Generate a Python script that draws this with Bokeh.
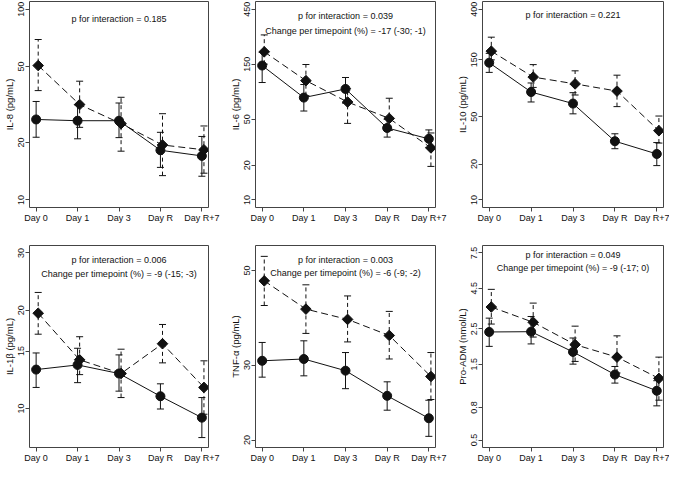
import numpy as np
from bokeh.plotting import figure
from bokeh.layouts import gridplot
from bokeh.models import (Range1d, FixedTicker, Whisker, TeeHead, ColumnDataSource,
                          Label, LinearAxis)
from bokeh.embed import file_html
from bokeh.resources import INLINE

# ---------------- data ----------------
days = ["Day 0", "Day 1", "Day 3", "Day R", "Day R+7"]
day_x = [1, 2, 3, 4, 5]

# IL-8
il8_solid = [26.4, 26.0, 26.0, 18.2, 17.0]
il8_solid_lo = [21.3, 20.9, 21.2, 14.8, 13.3]
il8_solid_hi = [32.8, 31.5, 32.2, 22.6, 21.5]
il8_dash = [50.6, 31.6, 25.1, 19.4, 18.3]
il8_dash_lo = [37.4, 24.0, 18.0, 13.4, 13.8]
il8_dash_hi = [69.3, 41.9, 34.5, 28.3, 24.4]
il8_ticks = [10, 20, 50, 100]
il8_tick_labels = ["10", "20", "50", "100"]

# IL-6
il6_solid = [146, 77, 91.5, 42, 33.8]
il6_solid_lo = [104, 58.9, 69, 35, 28.5]
il6_solid_hi = [190, 100, 115, 50, 40.4]
il6_dash = [192, 108, 70.5, 50.8, 28.2]
il6_dash_lo = [150, 80, 46, 40, 19.5]
il6_dash_hi = [269, 149, 92, 76, 38]
il6_ticks = [10, 20, 50, 150, 450]
il6_tick_labels = ["10", "20", "50", "150", "450"]

# IL-10
il10_solid = [141.9, 80.5, 64.4, 31.1, 24.3]
il10_solid_lo = [117.7, 66.4, 52.8, 26.9, 19.4]
il10_solid_hi = [170, 95.9, 79.5, 35.9, 30.3]
il10_dash = [177.4, 107.5, 94.2, 82, 38.1]
il10_dash_lo = [150, 88, 76, 60.7, 30]
il10_dash_hi = [232.5, 136.8, 121.3, 111.5, 50.6]
il10_ticks = [10, 20, 50, 150, 400]
il10_tick_labels = ["10", "20", "50", "150", "400"]

# IL-1beta
il1b_solid = [13.16, 13.6, 12.8, 10.9, 9.37]
il1b_solid_lo = [11.6, 12.0, 11.3, 9.96, 8.14]
il1b_solid_hi = [14.8, 15.3, 14.6, 11.9, 10.8]
il1b_dash = [19.6, 14.1, 12.8, 15.8, 11.6]
il1b_dash_lo = [16.9, 12.7, 10.8, 13.8, 9.6]
il1b_dash_hi = [22.7, 16.6, 15.2, 18.1, 14.0]
il1b_ticks = [10, 15, 20, 30]
il1b_tick_labels = ["10", "15", "20", "30"]

# TNF-alpha
tnf_solid = [30.7, 31.0, 29.1, 25.4, 22.5]
tnf_solid_lo = [28.1, 28.3, 26.4, 23.5, 20.4]
tnf_solid_hi = [33.9, 34.2, 32.1, 27.4, 24.8]
tnf_dash = [47.3, 40.6, 38.4, 35.2, 28.2]
tnf_dash_lo = [41.4, 35.6, 34.0, 31.0, 24.9]
tnf_dash_hi = [54.0, 46.3, 43.6, 40.1, 32.1]
tnf_ticks = [20, 30, 50]
tnf_tick_labels = ["20", "30", "50"]

# Pro-ADM
adm_solid = [2.39, 2.40, 1.79, 1.29, 1.02]
adm_solid_lo = [1.94, 2.01, 1.50, 1.14, 0.82]
adm_solid_hi = [2.92, 2.99, 2.19, 1.45, 1.18]
adm_dash = [3.43, 2.75, 1.99, 1.66, 1.22]
adm_dash_lo = [2.68, 2.22, 1.56, 1.32, 0.89]
adm_dash_hi = [4.43, 3.63, 2.6, 2.26, 1.66]
adm_ticks = [0.5, 0.8, 1.5, 2.5, 4.5, 7.5]
adm_tick_labels = ["0.5", "0.8", "1.5", "2.5", "4.5", "7.5"]

# ---------------- style ----------------
FONT = "Liberation Sans"
TXT = "9px"
TITLE = "9.5px"
INK = "#111111"
FRAME = "#444444"
DODGE = 0.05


def panel(ylabel, ylim, ticks, tick_labels, s, s_lo, s_hi, d, d_lo, d_hi,
          notes, note_y, left, right, top, bottom, fw, fh):
    lo, hi = ylim
    pad = 10 ** (0.04 * np.log10(hi / lo))
    p = figure(width=left + fw + right, height=top + fh + bottom,
               y_axis_type="log",
               x_range=Range1d(0.84, 5.16), y_range=Range1d(lo / pad, hi * pad),
               output_backend="svg", toolbar_location=None,
               min_border_left=left, min_border_right=right,
               min_border_top=top, min_border_bottom=bottom)
    p.xgrid.visible = False
    p.ygrid.visible = False
    p.outline_line_color = None
    p.background_fill_color = "white"
    p.border_fill_color = "white"

    xax = p.below[0]
    yax = p.left[0]
    for ax in (xax, yax):
        ax.axis_line_color = FRAME
        ax.axis_line_width = 1
        ax.major_tick_line_color = FRAME
        ax.major_tick_in = 0
        ax.major_tick_out = 4
        ax.minor_tick_line_color = None
        ax.major_label_text_font = FONT
        ax.major_label_text_font_size = TXT
        ax.major_label_text_color = INK
        ax.major_label_standoff = 1
        ax.axis_label_text_font = FONT
        ax.axis_label_text_font_size = TITLE
        ax.axis_label_text_font_style = "normal"
        ax.axis_label_text_color = INK

    xax.ticker = FixedTicker(ticks=day_x, minor_ticks=[])
    xax.major_label_overrides = {xv: lab for xv, lab in zip(day_x, days)}

    yax.ticker = FixedTicker(ticks=ticks, minor_ticks=[])
    yax.major_label_overrides = {tv: lab for tv, lab in zip(ticks, tick_labels)}
    yax.major_label_orientation = "vertical"
    yax.axis_label = ylabel
    yax.axis_label_standoff = 1

    # closing sides of the box (no ticks, no labels)
    for side in ("above", "right"):
        ax = LinearAxis(ticker=FixedTicker(ticks=[], minor_ticks=[]),
                        axis_line_color=FRAME, axis_line_width=1,
                        major_tick_in=0, major_tick_out=0,
                        minor_tick_in=0, minor_tick_out=0,
                        major_label_standoff=0)
        p.add_layout(ax, side)

    xd = [xv + DODGE for xv in day_x]
    src_s = ColumnDataSource(dict(x=day_x, y=s, lo=s_lo, hi=s_hi))
    src_d = ColumnDataSource(dict(x=xd, y=d, lo=d_lo, hi=d_hi))

    p.line("x", "y", source=src_s, line_color=INK, line_width=1)
    p.line("x", "y", source=src_d, line_color=INK, line_width=1, line_dash="7 4")

    for src, dash in ((src_s, "solid"), (src_d, "4 3")):
        w = Whisker(base="x", upper="hi", lower="lo", source=src, dimension="height",
                    line_color=INK, line_width=1, line_dash=dash,
                    upper_head=TeeHead(size=7, line_color=INK, line_width=1),
                    lower_head=TeeHead(size=7, line_color=INK, line_width=1))
        p.add_layout(w)

    p.scatter("x", "y", source=src_s, marker="circle", size=9,
              fill_color=INK, line_color=INK)
    p.scatter("x", "y", source=src_d, marker="square", size=7.5, angle=np.pi / 4,
              fill_color=INK, line_color=INK)

    for txt, yv in zip(notes, note_y):
        p.add_layout(Label(x=3, y=yv, text=txt, text_align="center",
                           text_baseline="middle", text_font=FONT,
                           text_font_size=TXT, text_color=INK))
    return p


p1 = panel("IL-8 (pg/mL)", (10, 100), il8_ticks, il8_tick_labels,
           il8_solid, il8_solid_lo, il8_solid_hi, il8_dash, il8_dash_lo, il8_dash_hi,
           ["p for interaction = 0.185"], [89],
           28, 18, 1, 26, 180, 206)
p2 = panel("IL-6 (pg/mL)", (10, 450), il6_ticks, il6_tick_labels,
           il6_solid, il6_solid_lo, il6_solid_hi, il6_dash, il6_dash_lo, il6_dash_hi,
           ["p for interaction = 0.039", "Change per timepoint (%) = -17 (-30; -1)"], [395, 289],
           28, 18, 1, 26, 181, 206)
p3 = panel("IL-10 (pg/mL)", (10, 400), il10_ticks, il10_tick_labels,
           il10_solid, il10_solid_lo, il10_solid_hi, il10_dash, il10_dash_lo, il10_dash_hi,
           ["p for interaction = 0.221"], [355],
           28, 6, 1, 26, 182, 206)
p4 = panel("IL-1\u03b2 (pg/mL)", (8, 30), il1b_ticks, il1b_tick_labels,
           il1b_solid, il1b_solid_lo, il1b_solid_hi, il1b_dash, il1b_dash_lo, il1b_dash_hi,
           ["p for interaction = 0.006", "Change per timepoint (%) = -9 (-15; -3)"], [28.5, 25.8],
           28, 18, 12, 17, 180, 203)
p5 = panel("TNF-\u03b1 (pg/mL)", (20, 55), tnf_ticks, tnf_tick_labels,
           tnf_solid, tnf_solid_lo, tnf_solid_hi, tnf_dash, tnf_dash_lo, tnf_dash_hi,
           ["p for interaction = 0.003", "Change per timepoint (%) = -6 (-9; -2)"], [52.9, 49.4],
           28, 18, 12, 17, 181, 203)
p6 = panel("Pro-ADM (nmol/L)", (0.5, 7.5), adm_ticks, adm_tick_labels,
           adm_solid, adm_solid_lo, adm_solid_hi, adm_dash, adm_dash_lo, adm_dash_hi,
           ["p for interaction = 0.049", "Change per timepoint (%) = -9 (-17; 0)"], [7.33, 6.06],
           28, 6, 12, 17, 182, 203)

grid = gridplot([[p1, p2, p3], [p4, p5, p6]], toolbar_location=None)

open("out.html", "w").write(file_html(grid, INLINE))
